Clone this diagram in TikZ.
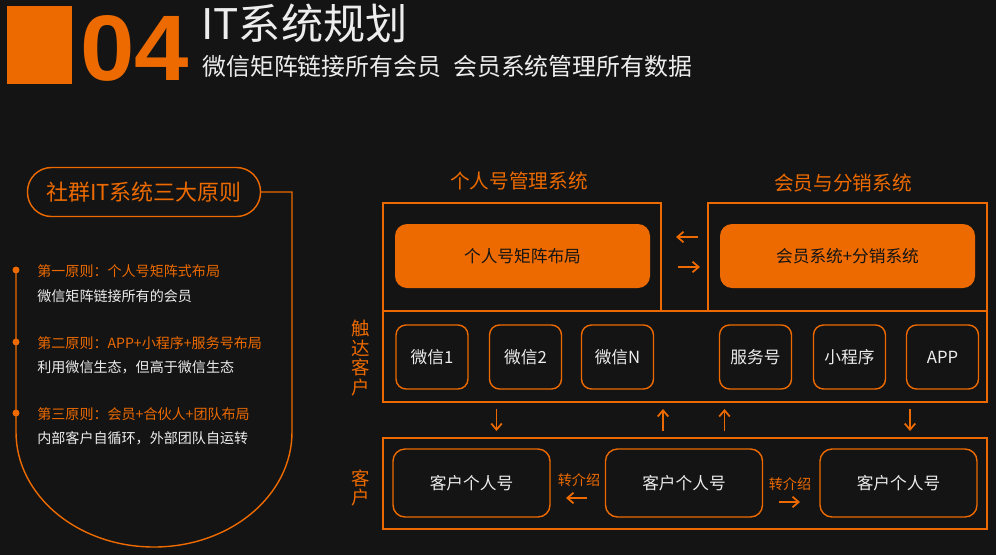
\documentclass[tikz,border=0pt]{standalone}
\usepackage{fontspec}
\setmainfont{Noto Sans CJK SC}
\newfontfamily\numfont{Liberation Sans}
\usetikzlibrary{arrows.meta}
\definecolor{bgc}{HTML}{141414}
\definecolor{org}{HTML}{EC6A00}
\definecolor{wht}{HTML}{EDEDED}
\begin{document}
\begin{tikzpicture}[
	x=0.02cm, y=-0.02cm,
	sz/.style 2 args={minimum width=#1*0.02cm, minimum height=#2*0.02cm},
	frame/.style={draw=org, line width=0.8pt, inner sep=0pt},
	chan/.style={draw=org, line width=0.8pt, rounded corners=0.2cm, inner sep=0pt,
	text=wht, font=\fontsize{9.5}{11}\selectfont, sz={72}{64}},
	cust/.style={chan, rounded corners=0.24cm, sz={157}{68}},
	core/.style={fill=org, rounded corners=0.24cm, inner sep=0pt, text=bgc,
	font=\fontsize{9.5}{11}\selectfont, sz={255}{64}},
	head/.style={text=org, font=\fontsize{11.2}{13}\selectfont},
	rule/.style={text=org, anchor=west, inner sep=0pt, font=\fontsize{8}{10}\selectfont},
	note/.style={rule, text=wht},
	dot/.style={circle, fill=org, inner sep=0pt, minimum size=0.14cm},
	arr/.style={draw=org, line width=1pt, -{Straight Barb[length=3.5pt,width=6pt]}},
	side/.style={text=org, align=center, inner sep=0pt, font=\fontsize{10.5}{11.3}\selectfont},
	]
	\fill[bgc] (0,0) rectangle (996,555);
	\useasboundingbox (0,0) rectangle (996,555);

	\node[fill=org, inner sep=0pt, sz={65}{78}] (bar) at (39.5,45) {};
	\node[anchor=base west, inner sep=0pt, text=org, xscale=1.05, font=\numfont\bfseries\fontsize{53}{58}\selectfont] (num) at (80,80) {04};
	\node[anchor=base west, inner sep=0pt, text=wht, font=\fontsize{24}{28}\selectfont] (title) at (201,39) {IT系统规划};
	\node[anchor=base west, inner sep=0pt, text=wht, font=\fontsize{13.6}{16}\selectfont] (sub) at (202,75) {微信矩阵链接所有会员\hspace{0.5em}会员系统管理所有数据};

	\node[draw=org, line width=0.8pt, rounded corners=0.48cm, sz={233}{49}, text=org,
	font=\fontsize{12.5}{14}\selectfont] (pill) at (144,192) {社群IT系统三大原则};
	\node[dot] (d1) at (16,270) {};
	\node[dot] (d2) at (16,342) {};
	\node[dot] (d3) at (16,413) {};
	\draw[org, line width=0.8pt] (pill.east) -| (292,432) arc[start angle=0, end angle=180, x radius=138, y radius=115] -- (d1.center);
	\node[rule] (r1) at (37,271) {第一原则：个人号矩阵式布局};
	\node[note] (n1) at (37,296) {微信矩阵链接所有的会员};
	\node[rule] (r2) at (37,343) {第二原则：APP+小程序+服务号布局};
	\node[note] (n2) at (37,367) {利用微信生态，但高于微信生态};
	\node[rule] (r3) at (37,414) {第三原则：会员+合伙人+团队布局};
	\node[note] (n3) at (37,438) {内部客户自循环，外部团队自运转};

	\node[head] (hA) at (519,181) {个人号管理系统};
	\node[head] (hB) at (843,183) {会员与分销系统};
	\node[frame, sz={278}{108}] (sysA) at (522,257) {};
	\node[frame, sz={279}{108}] (sysB) at (847.5,257) {};
	\node[frame, sz={604}{91}] (reach) at (685,356.5) {};
	\node[frame, sz={604}{91}] (pool) at (685,483.5) {};
	\node[core] (matrix) at (522.5,256) {个人号矩阵布局};
	\node[core] (member) at (847.5,256) {会员系统+分销系统};
	\coordinate (aL) at (698,237);
	\coordinate (aR) at (678,267);
	\draw[arr] (aL) -- (676,237);
	\draw[arr] (aR) -- (700,267);

	\node[chan] (wx1) at (432,357) {微信1};
	\node[chan] (wx2) at (525.5,357) {微信2};
	\node[chan] (wxn) at (617.5,357) {微信N};
	\node[chan] (fwh) at (755.5,357) {服务号};
	\node[chan] (xcx) at (849.5,357) {小程序};
	\node[chan] (app) at (942.5,357) {APP};
	\node[side] (reachlab) at (361,358) {触\\达\\客\\户};
	\node[side] (poollab) at (361,488) {客\\户};

	\node[cust] (c1) at (471.5,483) {客户个人号};
	\node[cust] (c2) at (684,483) {客户个人号};
	\node[cust] (c3) at (898.5,483) {客户个人号};

	\draw[arr] (496.5,409) -- (496.5,431);
	\draw[arr] (663,431) -- (663,409);
	\draw[arr] (724.5,431) -- (724.5,409);
	\draw[arr] (910,409) -- (910,431);

	\node[text=org, font=\fontsize{8}{10}\selectfont] (ref1) at (579,480) {转介绍};
	\node[text=org, font=\fontsize{8}{10}\selectfont] (ref2) at (790,484) {转介绍};
	\coordinate (bL) at (587,498);
	\coordinate (bR) at (779,502);
	\draw[arr] (bL) -- (566,498);
	\draw[arr] (bR) -- (800,502);
\end{tikzpicture}
\end{document}
